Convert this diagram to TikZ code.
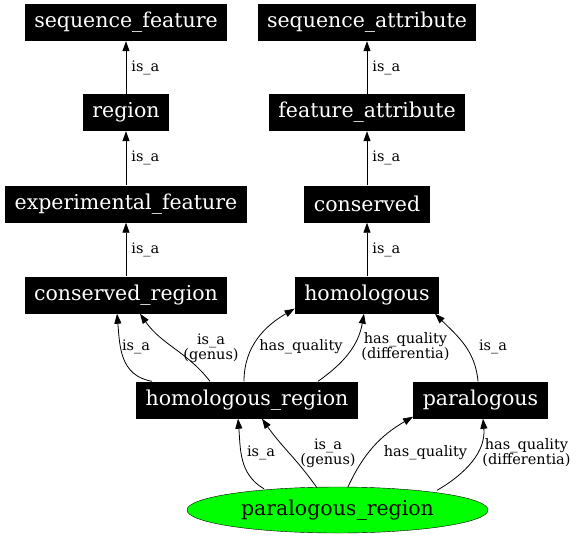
\documentclass[tikz,border=0pt]{standalone}
\usepackage{fontspec}
\setmainfont{DejaVu Serif}
\usetikzlibrary{arrows.meta,shapes.geometric}
\tikzset{
  term/.style={fill=black, text=white, font=\fontsize{20.5}{22}\selectfont, minimum height=37pt, inner xsep=9.5pt, inner ysep=0pt},
  leaf/.style={ellipse, draw=black, fill=green, font=\fontsize{20.5}{22}\selectfont, minimum width=301pt, minimum height=46pt, inner sep=0pt},
  rel/.style={draw=black, line width=0.8pt, -{Triangle[length=10pt,width=7pt]}},
  lbl/.style={font=\fontsize{14.5}{15}\selectfont, align=center, inner sep=0pt},
}

\begin{document}
\begin{tikzpicture}[x=1pt,y=-1pt]
\useasboundingbox (0,0) rectangle (576,536);
% terms
\node[term] (sfeat) at (126,22.5) {sequence\_feature};
\node[term] (sattr) at (367,22.5) {sequence\_attribute};
\node[term] (reg) at (126,112.5) {region};
\node[term] (fattr) at (367,112.5) {feature\_attribute};
\node[term] (expf) at (126,204) {experimental\_feature};
\node[term] (cons) at (367,204) {conserved};
\node[term] (creg) at (126,295) {conserved\_region};
\node[term] (homol) at (367,295) {homologous};
\node[term] (hreg) at (247,400) {homologous\_region};
\node[term] (paral) at (480.5,400) {paralogous};
\node[leaf] (preg) at (337.5,510) {paralogous\_region};
% straight is_a chains
\draw[rel] (reg) -- (sfeat) node[lbl, midway, right=5pt] (l1) {is\_a};
\draw[rel] (expf) -- (reg) node[lbl, midway, right=5pt] (l2) {is\_a};
\draw[rel] (creg) -- (expf) node[lbl, midway, right=5pt] (l3) {is\_a};
\draw[rel] (fattr) -- (sattr) node[lbl, midway, right=5pt] (l4) {is\_a};
\draw[rel] (cons) -- (fattr) node[lbl, midway, right=5pt] (l5) {is\_a};
\draw[rel] (homol) -- (cons) node[lbl, midway, right=5pt] (l6) {is\_a};
% homologous_region
\draw[rel] ([xshift=-95pt]hreg.north) to[out=170,in=-85,looseness=1.1] ([xshift=-9pt]creg.south);
\draw[rel] ([xshift=-37pt]hreg.north) to[out=128,in=-55] ([xshift=14pt]creg.south);
\draw[rel] ([xshift=-3pt]hreg.north) to[out=90,in=-150] ([yshift=5pt]homol.south west);
\draw[rel] ([xshift=71pt]hreg.north) to[out=35,in=-100] ([xshift=-3pt]homol.south);
\node[lbl] (l7) at (136,347) {is\_a};
\node[lbl] (l8) at (211,348) {is\_a\\(genus)};
\node[lbl] (l9) at (301,347) {has\_quality};
\node[lbl] (l10) at (405.5,347) {has\_quality\\(differentia)};
% paralogous
\draw[rel] ([xshift=-2.5pt]paral.north) to[out=95,in=-45] ([xshift=68pt]homol.south);
\node[lbl] (l11) at (493,347) {is\_a};
% paralogous_region
\draw[rel] ([xshift=-73.5pt,yshift=-2pt]preg.north) to[out=150,in=-85] ([xshift=-9pt]hreg.south);
\draw[rel] ([xshift=-20.5pt,yshift=-1pt]preg.north) to[out=125,in=-55] ([xshift=15pt]hreg.south);
\draw[rel] ([xshift=10.5pt]preg.north) to[out=65,in=-150] ([yshift=2pt]paral.south west);
\draw[rel] ([xshift=99.5pt,yshift=-3.5pt]preg.north) to[out=30,in=-85] ([xshift=2.5pt]paral.south);
\node[lbl] (l12) at (261,453) {is\_a};
\node[lbl] (l13) at (328,453) {is\_a\\(genus)};
\node[lbl] (l14) at (425.5,453) {has\_quality};
\node[lbl] (l15) at (526.5,453) {has\_quality\\(differentia)};
\end{tikzpicture}
\end{document}
